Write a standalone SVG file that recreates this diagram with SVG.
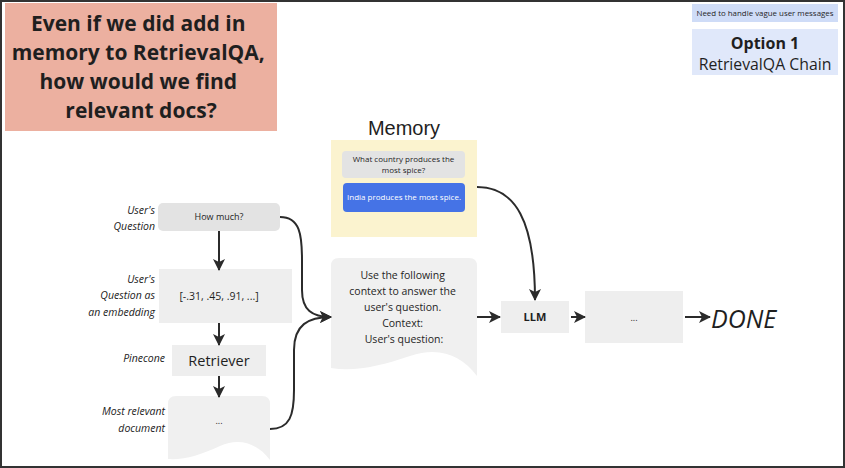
<svg xmlns="http://www.w3.org/2000/svg" width="845" height="468" viewBox="0 0 845 468">
<defs>
<marker id="ah" viewBox="0 0 12 12" refX="11" refY="6" markerWidth="12" markerHeight="12" markerUnits="userSpaceOnUse" orient="auto">
<path d="M0,0 L12,6 L0,12 L3,6 Z" fill="#2b2b2b"/>
</marker>
<style>
.t{font-family:"Open Sans","Liberation Sans",sans-serif;fill:#1f1f1f}
.lbl{font-family:"Open Sans","Liberation Sans",sans-serif;font-style:italic;font-size:10.5px;fill:#222;text-anchor:end}
.c{text-anchor:middle}
.conn{fill:none;stroke:#2b2b2b;stroke-width:2;marker-end:url(#ah)}
.box{fill:#eeeeee}
</style>
</defs>
<rect x="1" y="1" width="843" height="466" fill="#ffffff" stroke="#333" stroke-width="2"/>

<g id="title">
<rect x="5" y="3" width="272" height="128" fill="#ecb0a0"/>
<text class="t c" font-size="21" font-weight="700" x="141">
<tspan x="141" y="31">Even if we did add in</tspan>
<tspan x="141" y="60">memory to RetrievalQA,</tspan>
<tspan x="141" y="89">how would we find</tspan>
<tspan x="141" y="118">relevant docs?</tspan>
</text>
</g>

<g id="note">
<rect x="692" y="4" width="146" height="18" fill="#cfdcf7"/>
<text class="t c" font-size="7.9" x="765" y="16" fill="#333">Need to handle vague user messages</text>
</g>

<g id="option">
<rect x="692" y="29" width="146" height="46" fill="#e0e8fa"/>
<text class="t c" font-size="16" font-weight="700" x="765" y="49">Option 1</text>
<text class="t c" font-size="15.8" x="765" y="70">RetrievalQA Chain</text>
</g>

<g id="memory">
<text x="404" y="135" font-family="Liberation Sans, Arial, sans-serif" font-size="20" fill="#1f1f1f" text-anchor="middle">Memory</text>
<rect x="331" y="140" width="146" height="97" fill="#fbf3cf"/>
<rect x="342" y="151" width="123" height="27" rx="4" fill="#e3e3e3"/>
<text class="t c" font-size="8" fill="#333"><tspan x="403.5" y="162">What country produces the</tspan><tspan x="403.5" y="173">most spice?</tspan></text>
<rect x="343" y="183" width="122" height="29" rx="4" fill="#4573e6"/>
<text class="t c" font-size="8" x="404" y="200" style="fill:#ffffff">India produces the most spice.</text>
</g>

<g id="question">
<rect x="158" y="203" width="122" height="28" rx="5" fill="#e3e3e3"/>
<text class="t c" font-size="9" x="219" y="220" fill="#333">How much?</text>
<text class="lbl"><tspan x="155" y="214">User's</tspan><tspan x="155" y="230">Question</tspan></text>
</g>

<g id="embedding">
<rect x="159" y="269" width="133" height="54" class="box"/>
<text class="t c" font-size="10.5" x="219" y="300" fill="#333">[-.31, .45, .91, ...]</text>
<text class="lbl"><tspan x="155" y="283">User's</tspan><tspan x="155" y="299">Question as</tspan><tspan x="155" y="316">an embedding</tspan></text>
</g>

<g id="retriever">
<rect x="172" y="345" width="94" height="31" class="box"/>
<text class="t c" font-size="14.5" x="219" y="366">Retriever</text>
<text class="lbl" x="165" y="362">Pinecone</text>
</g>

<g id="document">
<path d="M168,404 Q168,396 176,396 L262,396 Q270,396 270,404 L270,460 C258,444 240,437 220,446 C200,455 185,460 168,459 Z" fill="#f0f0f0"/>
<text class="t c" font-size="9" x="219" y="424" fill="#333">...</text>
<text class="lbl"><tspan x="165" y="415">Most relevant</tspan><tspan x="165" y="432">document</tspan></text>
</g>

<g id="prompt">
<path d="M331,266 Q331,258 339,258 L469,258 Q477,258 477,266 L477,376 C462,356 440,346 410,356 C380,366 355,372 331,368 Z" fill="#f0f0f0"/>
<text class="t c" font-size="10.5" fill="#1f1f1f">
<tspan x="404" y="279">Use the following</tspan>
<tspan x="404" y="295">context to answer the</tspan>
<tspan x="404" y="311">user's question.</tspan>
<tspan x="404" y="327">Context:</tspan>
<tspan x="404" y="343">User's question:</tspan>
</text>
</g>

<g id="llm">
<rect x="501" y="301" width="68" height="32" class="box"/>
<text class="t c" font-size="11" font-weight="700" x="535" y="321">LLM</text>
</g>

<g id="output">
<rect x="585" y="291" width="98" height="52" class="box"/>
<text class="t c" font-size="9" x="634" y="321" fill="#333">...</text>
</g>

<g id="done">
<text class="t" font-size="25" font-style="italic" x="711" y="328">DONE</text>
</g>

<g id="connectors">
<path class="conn" d="M219,231 L219,270"/>
<path class="conn" d="M219,323 L219,345"/>
<path class="conn" d="M219,376 L219,397"/>
<path class="conn" d="M280,217 C300,217 302,235 302,260 L302,290 C302,310 312,317 331,317"/>
<path class="conn" d="M270,429 C290,429 294,415 294,390 L294,350 C294,325 308,317 331,317"/>
<path class="conn" d="M477,187 C515,187 535,220 535,300"/>
<path class="conn" d="M477,317 L500,317"/>
<path class="conn" d="M571,317 L585,317"/>
<path class="conn" d="M685,317 L710,317"/>
</g>
</svg>
